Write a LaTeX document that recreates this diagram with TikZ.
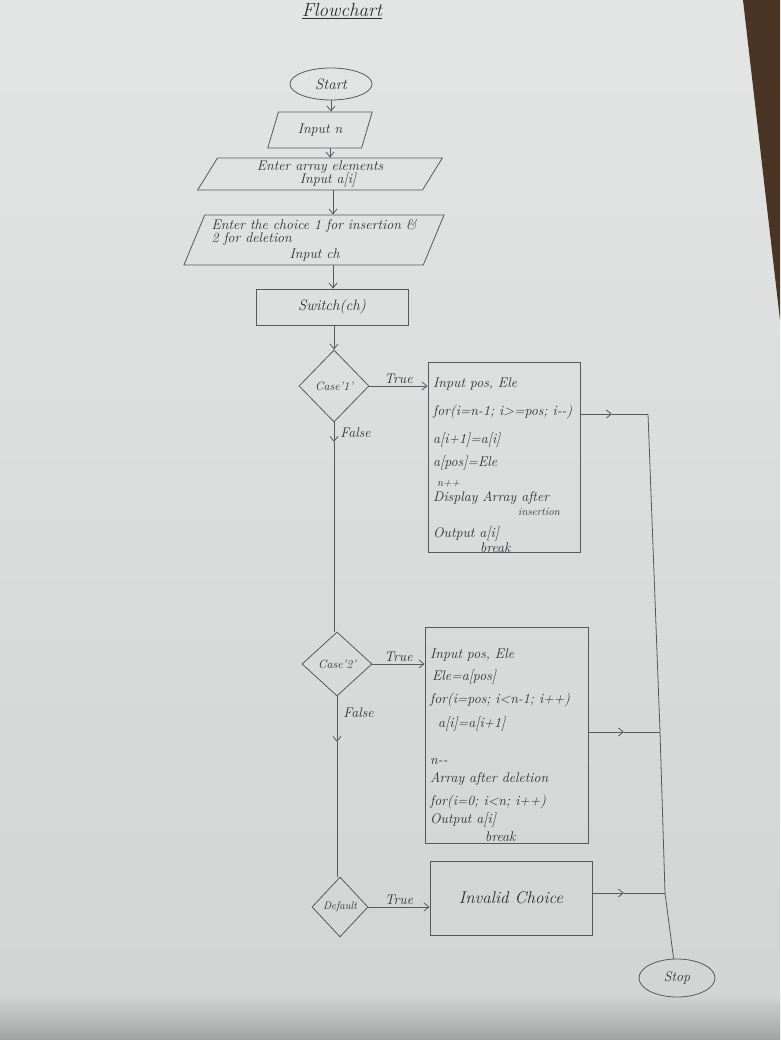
\documentclass[tikz,border=0pt]{standalone}
\usetikzlibrary{shapes.geometric,arrows.meta}
\definecolor{pencil}{HTML}{56595B}
\definecolor{ink}{HTML}{2C2E30}
\definecolor{paperTop}{HTML}{E3E5E5}
\definecolor{paperBot}{HTML}{D2D4D4}
\definecolor{shadowc}{HTML}{A2A4A4}
\definecolor{desk}{HTML}{4A3424}
\begin{document}
\begin{tikzpicture}[x=1pt,y=-1pt,
  pen/.style={draw=pencil, line width=0.8pt},
  arr/.style={-{Straight Barb[length=5pt,width=8pt]}},
  txt/.style={text=ink, font=\fontsize{14}{16}\selectfont\itshape, inner sep=0pt},
  small/.style={text=ink, font=\fontsize{11}{12}\selectfont\itshape, inner sep=0pt},
  para/.style={trapezium, trapezium left angle=65, trapezium right angle=115,
    trapezium stretches=true, pen, txt},
  dec/.style={diamond, pen, inner sep=0pt},
  boxx/.style={rectangle, pen, txt},
  line/.style={txt, anchor=west}
]
\useasboundingbox (0,0) rectangle (780,1040);
\shade[top color=paperTop, bottom color=paperBot] (0,0) rectangle (780,1040);
\shade[top color=paperBot, bottom color=shadowc] (0,995) rectangle (780,1040);
\fill[desk] (743,0) -- (780,0) -- (780,320) -- cycle;

% title
\node[txt, font=\fontsize{19}{21}\selectfont\itshape] (title) at (342,11) {\underline{Flowchart}};

% flow
\node[ellipse, pen, txt, minimum width=82, minimum height=32, font=\fontsize{15}{16}\selectfont\itshape] (start) at (331,84) {Start};
\node[para, minimum width=105, minimum height=36] (inn) at (320,130) {Input n};
\node[para, minimum width=245, minimum height=32, align=center] (arr) at (320,174)
  {Enter array elements\\[-3pt]\hspace*{16pt}Input a[i]};
\node[para, minimum width=261, minimum height=50, align=left] (ch) at (314,240)
  {Enter the choice 1 for insertion \&\\[-3pt]2 for deletion\\[0pt]\hspace*{78pt}Input ch};
\node[boxx, minimum width=152, minimum height=36, font=\fontsize{15}{16}\selectfont\itshape] (sw) at (332,307) {Switch(ch)};

\node[dec, minimum width=70, minimum height=72] (c1) at (334,386) {};
\node[small, font=\fontsize{12}{13}\selectfont\itshape] (c1l) at (c1) {Case'1'};
\node[boxx, minimum width=152, minimum height=190] (b1) at (504,457) {};
\node[line] (b1a) at (433,384) {Input pos, Ele};
\node[line] (b1b) at (433,412) {for(i=n-1; i>=pos; i-{}-)};
\node[line] (b1c) at (433,440) {a[i+1]=a[i]};
\node[line] (b1d) at (433,463) {a[pos]=Ele};
\node[line, small] (b1e) at (437,484) {n++};
\node[line] (b1f) at (433,498) {Display Array after};
\node[line, small] (b1g) at (518,512) {insertion};
\node[line] (b1h) at (433,534) {Output a[i]};
\node[line] (b1i) at (480,548) {break};

\node[dec, minimum width=70, minimum height=64] (c2) at (337,664) {};
\node[small, font=\fontsize{12}{13}\selectfont\itshape] (c2l) at (c2) {Case'2'};
\node[boxx, minimum width=163, minimum height=216] (b2) at (506.5,735) {};
\node[line] (b2a) at (430,655) {Input pos, Ele};
\node[line] (b2b) at (432,677) {Ele=a[pos]};
\node[line] (b2c) at (430,700) {for(i=pos; i<n-1; i++)};
\node[line] (b2d) at (438,724) {a[i]=a[i+1]};
\node[line] (b2e) at (430,761) {n-{}-};
\node[line] (b2f) at (430,779) {Array after deletion};
\node[line] (b2g) at (430,802) {for(i=0; i<n; i++)};
\node[line] (b2h) at (430,820) {Output a[i]};
\node[line] (b2i) at (485,837) {break};

\node[dec, minimum width=56, minimum height=60] (d) at (340,907) {};
\node[small, font=\fontsize{11}{12}\selectfont\itshape] (dl) at (d) {Default};
\node[boxx, minimum width=162, minimum height=74, font=\fontsize{17}{19}\selectfont\itshape] (inv) at (511,898) {Invalid Choice};

\node[ellipse, pen, txt, minimum width=76, minimum height=38] (stop) at (677,978) {Stop};

% connectors
\draw[pen,arr] (start.south) -- (start.south |- inn.north);
\draw[pen,arr] (inn.south) ++(10,0) coordinate (s1) -- (s1 |- arr.north);
\draw[pen,arr] (arr.south) ++(13,0) coordinate (s2) -- (s2 |- ch.north);
\draw[pen,arr] (ch.south) ++(19,0) coordinate (s3) -- (s3 |- sw.north);
\draw[pen,arr] (sw.south) ++(2,0) coordinate (s4) -- (s4 |- c1.north);

\draw[pen,arr] (c1.east) -- node[above=2pt, txt] (t1) {True} (c1.east -| b1.west);
\coordinate (f1) at (334,442);
\draw[pen,arr] (c1.south) -- node[pos=0.55, right=6pt, txt] (fl1) {False} (f1);
\draw[pen] (f1) -- (c2.north -| f1);

\draw[pen,arr] (c2.east) -- node[above=2pt, txt] (t2) {True} (c2.east -| b2.west);
\coordinate (f2) at (337,742);
\draw[pen,arr] (c2.south) -- node[pos=0.35, right=6pt, txt] (fl2) {False} (f2);
\draw[pen] (f2) -- (d.north -| f2);

\draw[pen,arr] (d.east) -- node[above=2pt, txt] (t3) {True} (d.east -| inv.west);

\coordinate (j1) at (648,414);
\coordinate (j2) at (660,732);
\coordinate (j3) at (665,893);
\coordinate (m1) at (612,414);
\coordinate (m2) at (624,732);
\coordinate (m3) at (624,893);
\draw[pen,arr] (b1.east |- j1) -- (m1);
\draw[pen] (m1) -- (j1);
\draw[pen,arr] (b2.east |- j2) -- (m2);
\draw[pen] (m2) -- (j2);
\draw[pen,arr] (inv.east |- j3) -- (m3);
\draw[pen] (m3) -- (j3);
\draw[pen] (j1) -- (j2) -- (j3) -- (stop.100);
\end{tikzpicture}
\end{document}
